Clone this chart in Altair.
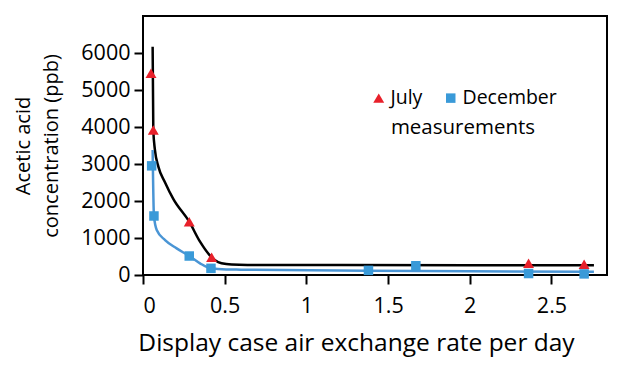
import altair as alt
import pandas as pd

# measured points
july_x = [0.049, 0.063, 0.283, 0.42, 2.36, 2.70]
july_y = [5450, 3920, 1440, 480, 317, 290]
dec_x = [0.053, 0.067, 0.283, 0.416, 1.38, 1.67, 2.36, 2.70]
dec_y = [2950, 1595, 513, 180, 125, 250, 40, 30]

# fitted curves
july_curve_x = [0.059, 0.063, 0.073, 0.094, 0.135, 0.186, 0.283, 0.349, 0.42, 0.46, 0.51, 0.59, 0.76, 1.2, 2.0, 2.76]
july_curve_y = [6170, 3920, 3380, 2930, 2500, 2050, 1440, 900, 478, 350, 300, 280, 270, 268, 266, 265]
dec_curve_x = [0.059, 0.067, 0.084, 0.135, 0.206, 0.283, 0.349, 0.416, 0.51, 0.6, 1.37, 2.0, 2.76]
dec_curve_y = [3380, 1595, 1215, 945, 720, 513, 315, 180, 150, 145, 117, 100, 90]

x_ticks = [0, 0.5, 1, 1.5, 2, 2.5]
y_ticks = [0, 1000, 2000, 3000, 4000, 5000, 6000]

FONT = "Open Sans"

pts = pd.DataFrame(
    {"x": july_x + dec_x,
     "y": july_y + dec_y,
     "series": ["July"] * len(july_x) + ["December"] * len(dec_x)}
)
july_curve = pd.DataFrame({"x": july_curve_x, "y": july_curve_y})
dec_curve = pd.DataFrame({"x": dec_curve_x, "y": dec_curve_y})

xs = alt.Scale(domain=[0, 2.84], nice=False, zero=False)
ys = alt.Scale(domain=[0, 7000], nice=False)

xaxis = alt.Axis(values=x_ticks, format="~g", title="Display case air exchange rate per day",
                 grid=False, domain=False, tickColor="black", tickWidth=2, tickSize=9,
                 labelFontSize=21.5, labelColor="black", labelFont=FONT, labelPadding=11,
                 titleFontSize=24.5, titleFont=FONT, titleFontWeight="normal", titleColor="black",
                 titlePadding=15, titleX=213)
yaxis = alt.Axis(values=y_ticks, format="d", title=["Acetic acid", "concentration (ppb)"],
                 grid=False, domain=False, tickColor="black", tickWidth=2, tickSize=9,
                 labelFontSize=21.5, labelColor="black", labelFont=FONT, labelPadding=4,
                 titleFontSize=20, titleFont=FONT, titleFontWeight="normal", titleColor="black",
                 titlePadding=19, titleLineHeight=28)

line_july = alt.Chart(july_curve).mark_line(strokeWidth=2.5, interpolate="monotone", color="#000000").encode(
    x=alt.X("x:Q", scale=xs, axis=xaxis),
    y=alt.Y("y:Q", scale=ys, axis=yaxis),
)
line_dec = alt.Chart(dec_curve).mark_line(strokeWidth=2.5, interpolate="monotone", color="#4a95d5").encode(
    x=alt.X("x:Q", scale=xs),
    y=alt.Y("y:Q", scale=ys),
)

legend = alt.Legend(title="measurements", orient="none", legendX=226, legendY=72,
                    direction="horizontal", titleOrient="bottom", titleAnchor="middle",
                    titleFontSize=20.5, titleFont=FONT, titleFontWeight="normal",
                    titleColor="black", titlePadding=10,
                    labelFontSize=19.5, labelFont=FONT, labelColor="black",
                    symbolSize=95, labelOffset=2, columnPadding=18, symbolStrokeWidth=0)

points = alt.Chart(pts).mark_point(filled=True, opacity=1).encode(
    x=alt.X("x:Q", scale=xs),
    y=alt.Y("y:Q", scale=ys),
    color=alt.Color("series:N",
                    scale=alt.Scale(domain=["July", "December"], range=["#e8202a", "#3a9ad8"]),
                    legend=legend),
    shape=alt.Shape("series:N",
                    scale=alt.Scale(domain=["July", "December"], range=["triangle-up", "square"]),
                    legend=legend),
    size=alt.Size("series:N",
                  scale=alt.Scale(domain=["July", "December"], range=[120, 90]),
                  legend=None),
)

chart = alt.layer(line_july, line_dec, points).properties(
    width=464, height=259,
    autosize=alt.AutoSizeParams(type="none"),
    padding={"left": 135, "top": 8, "right": 10, "bottom": 88},
    background="white",
).configure_view(stroke="black", strokeWidth=2)

chart.save("out.html", embed_options={"renderer": "svg", "actions": False})
